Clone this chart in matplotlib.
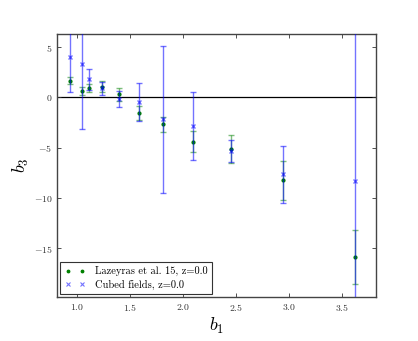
import matplotlib
matplotlib.use("Agg")
import matplotlib.pyplot as plt
from matplotlib.lines import Line2D

plt.rcParams["font.family"] = "serif"
plt.rcParams["font.serif"] = ["cmr10", "DejaVu Serif"]
plt.rcParams["mathtext.fontset"] = "cm"
plt.rcParams["axes.formatter.use_mathtext"] = True

# b1 positions of the measured bins
b1 = [0.934, 1.042, 1.113, 1.236, 1.396, 1.579, 1.811, 2.089, 2.447, 2.945, 3.62]

# Lazeyras et al. 15
laz_b3 = [1.65, 0.60, 0.92, 1.05, 0.33, -1.53, -2.68, -4.38, -5.13, -8.25, -15.86]
laz_err = [0.35, 0.40, 0.40, 0.55, 0.66, 0.72, 0.78, 1.03, 1.40, 1.97, 2.73]

# Cubed fields
cub_b3 = [4.07, 3.34, 1.79, 0.90, -0.17, -0.43, -2.15, -2.82, -5.35, -7.65, -8.28]
cub_err = [3.55, 6.52, 1.05, 0.65, 0.78, 1.90, 7.30, 3.40, 1.08, 2.80, 16.0]

fig = plt.figure(figsize=(4.18, 3.41), dpi=100)
ax = fig.add_axes([0.137, 0.129, 0.763, 0.771])

ax.axhline(0, color="k", linewidth=0.9, zorder=1)

ax.errorbar(b1, laz_b3, yerr=laz_err, fmt=".", color="green", markersize=4,
            ecolor=(0, 0.5, 0, 0.5), elinewidth=1, capsize=2, capthick=1,
            zorder=2)
ax.errorbar(b1, cub_b3, yerr=cub_err, fmt="x", color="blue", markersize=3.5,
            markeredgewidth=1, elinewidth=1, capsize=2, capthick=1, alpha=0.55,
            zorder=3)

ax.set_xlim(0.81, 3.82)
ax.set_ylim(-19.84, 6.3)
ax.set_xticks([1.0, 1.5, 2.0, 2.5, 3.0, 3.5])
ax.set_yticks([-15, -10, -5, 0, 5])

ax.tick_params(direction="in", top=True, right=True, labelsize=7,
               colors="#333333", length=3, width=0.6)
for sp in ax.spines.values():
    sp.set_color("#444444")
    sp.set_linewidth(1.0)

ax.set_xlabel(r"$b_1$", fontsize=13, labelpad=2)
ax.set_ylabel(r"$b_3$", fontsize=13, labelpad=2)

handles = [
    Line2D([], [], linestyle="none", marker=".", color="green", markersize=3.5),
    Line2D([], [], linestyle="none", marker="x", color="blue", alpha=0.55,
           markersize=3, markeredgewidth=0.8),
]
labels = ["Lazeyras et al. 15, z=0.0", "Cubed fields, z=0.0"]
leg = ax.legend(handles, labels, loc="lower left", numpoints=2, fontsize=7.5,
                fancybox=False, framealpha=1, edgecolor="#333333",
                handlelength=2.0, borderpad=0.4, labelspacing=0.3,
                handletextpad=0.9, borderaxespad=0.3)
leg.get_frame().set_linewidth(0.8)

fig.savefig("out.png", dpi=100)
